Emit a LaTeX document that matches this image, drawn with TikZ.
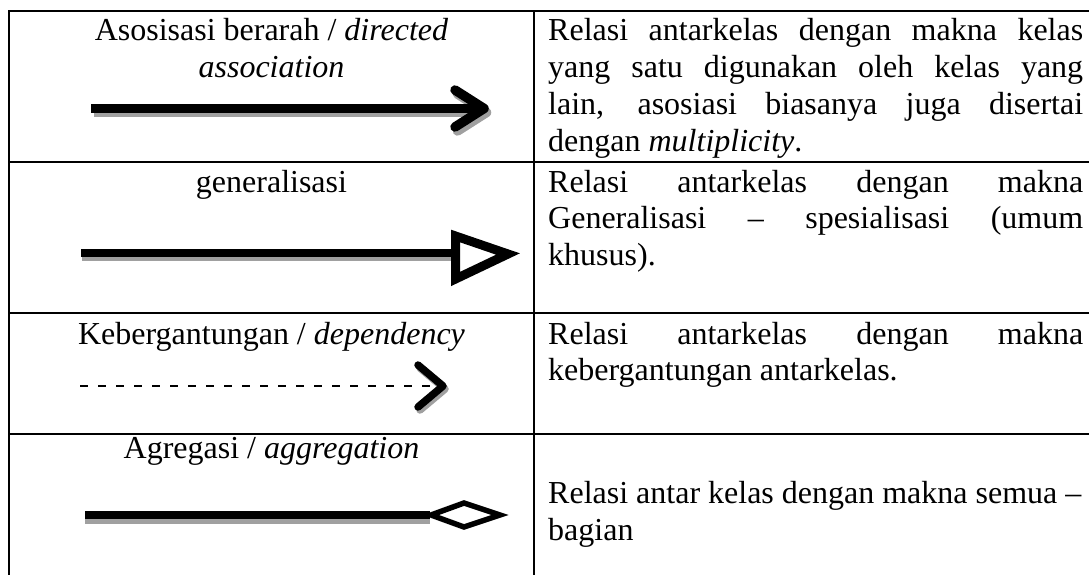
\documentclass[tikz,border=0pt]{standalone}
\usepackage{fontspec}
\setmainfont{Liberation Serif}
\definecolor{shadowgray}{RGB}{160,160,160}
\tikzset{
  grid/.style={line width=2pt, line cap=rect},
  celltext/.style={inner sep=0pt, font=\fontsize{32}{36.8}\selectfont},
  shaft/.style={line width=9.5pt},
  thinshaft/.style={line width=8pt},
  chevron/.style={line width=9.5pt, line cap=round, line join=round},
  smallchevron/.style={line width=7.5pt, line cap=round, line join=round},
  dashline/.style={line width=2pt, dash pattern=on 8pt off 10pt},
  trianglehead/.style={line width=9pt, line join=miter, fill=white},
  diamondhead/.style={line width=5.5pt, line join=miter, fill=white}
}
\begin{document}
\begin{tikzpicture}[x=1pt,y=-1pt]
\useasboundingbox (0,0) rectangle (1089,575);
% table rules
\coordinate (tl) at (9,11);
\coordinate (tr) at (1089,11);
\coordinate (bl) at (9,575);
\coordinate (mt) at (534,11);
\coordinate (mb) at (534,575);
\coordinate (r1l) at (9,162);  \coordinate (r1r) at (1089,162);
\coordinate (r2l) at (9,313);  \coordinate (r2r) at (1089,313);
\coordinate (r3l) at (9,434);  \coordinate (r3r) at (1089,434);
\draw[grid, line join=miter] (bl) -- (tl) -- (tr);
\draw[grid] (mt) -- (mb);
\draw[grid] (r1l) -- (r1r);
\draw[grid] (r2l) -- (r2r);
\draw[grid] (r3l) -- (r3r);

% left column texts
\node[celltext, anchor=base] (l1) at (271.5,41) {\parbox[t]{520pt}{\centering Asosisasi berarah / \textit{directed}\\ \textit{association}}};
\node[celltext, anchor=base] (l2) at (271.5,192) {generalisasi};
\node[celltext, anchor=base] (l3) at (271.5,344) {Kebergantungan / \textit{dependency}};
\node[celltext, anchor=base] (l4) at (271.5,458) {Agregasi / \textit{aggregation}};

% right column texts
\node[celltext, anchor=base west] (d1) at (548,41) {\parbox[t]{535pt}{%
\makebox[535pt][s]{Relasi antarkelas dengan makna kelas}\\
\makebox[535pt][s]{yang satu digunakan oleh kelas yang}\\
\makebox[535pt][s]{lain, asosiasi biasanya juga disertai}\\
dengan \textit{multiplicity}.}};
\node[celltext, anchor=base west] (d2) at (548,192) {\parbox[t]{535pt}{%
\makebox[535pt][s]{Relasi antarkelas dengan makna}\\
\makebox[535pt][s]{Generalisasi – spesialisasi (umum}\\
khusus).}};
\node[celltext, anchor=base west] (d3) at (548,344) {\parbox[t]{535pt}{%
\makebox[535pt][s]{Relasi antarkelas dengan makna}\\
kebergantungan antarkelas.}};
\node[celltext, anchor=base west] (d4) at (548,503.5) {\parbox[t]{540pt}{%
Relasi antar kelas dengan makna semua –\\
bagian}};

% row 1: directed association
\coordinate (a1s) at (91,108.5);
\coordinate (a1e) at (478,108.5);
\coordinate (h1t) at (455,90);
\coordinate (h1p) at (484,108.5);
\coordinate (h1b) at (455,127);
\begin{scope}[transform canvas={shift={(2.5,4)}}]
  \draw[shaft, shadowgray] (a1s) -- (a1e);
  \draw[chevron, shadowgray] (h1t) -- (h1p) -- (h1b);
\end{scope}
\draw[shaft] (a1s) -- (a1e);
\draw[chevron] (h1t) -- (h1p) -- (h1b);

% row 2: generalisation
\coordinate (a2s) at (81,252.5);
\coordinate (a2e) at (455,252.5);
\coordinate (h2t) at (455.5,236);
\coordinate (h2p) at (508,254);
\coordinate (h2b) at (455.5,279);
\draw[thinshaft, shadowgray] ([shift={(1,4.5)}]a2s) -- ([shift={(1,4.5)}]a2e);
\draw[thinshaft] (a2s) -- (a2e);
\draw[trianglehead] (h2t) -- (h2p) -- (h2b) -- cycle;

% row 3: dependency
\coordinate (a3s) at (80,385.5);
\coordinate (a3e) at (437,385.5);
\coordinate (h3t) at (418,365);
\coordinate (h3p) at (443,386);
\coordinate (h3b) at (418,407);
\draw[dashline] (a3s) -- (a3e);
\begin{scope}[transform canvas={shift={(2,3)}}]
  \draw[smallchevron, shadowgray] (h3t) -- (h3p) -- (h3b);
\end{scope}
\draw[smallchevron] (h3t) -- (h3p) -- (h3b);

% row 4: aggregation
\coordinate (a4s) at (85,515);
\coordinate (a4e) at (430,515);
\coordinate (d4l) at (431,515);
\coordinate (d4t) at (464,503);
\coordinate (d4r) at (500,515);
\coordinate (d4b) at (464,527);
\draw[thinshaft, shadowgray] ([shift={(0,5)}]a4s) -- ([shift={(0,5)}]a4e);
\draw[thinshaft] (a4s) -- (a4e);
\draw[diamondhead] (d4l) -- (d4t) -- (d4r) -- (d4b) -- cycle;
\end{tikzpicture}
\end{document}
